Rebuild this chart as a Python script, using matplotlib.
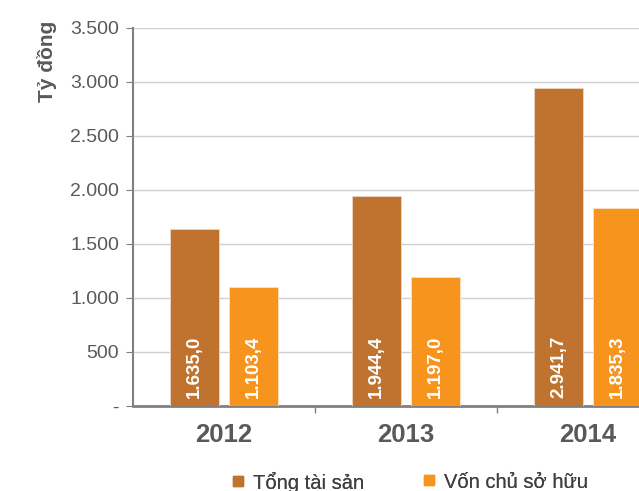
import matplotlib
matplotlib.use("Agg")
import matplotlib.pyplot as plt
from matplotlib.lines import Line2D
import numpy as np

plt.rcParams['font.family'] = ['Liberation Sans', 'DejaVu Sans']

nam = ['2012', '2013', '2014']
tong_tai_san = [1635.0, 1944.4, 2941.7]
von_chu_so_huu = [1103.4, 1197.0, 1835.3]
nhan_tts = ['1.635,0', '1.944,4', '2.941,7']
nhan_vcsh = ['1.103,4', '1.197,0', '1.835,3']
y_ticks = [0, 500, 1000, 1500, 2000, 2500, 3000, 3500]
y_labels = ['-', '500', '1.000', '1.500', '2.000', '2.500', '3.000', '3.500']

mau_nau = '#C0722F'
mau_cam = '#F7941D'
xam = '#595959'

fig = plt.figure(figsize=(6.39, 4.91), dpi=100)
ax = fig.add_axes([133 / 639, 1 - 406 / 491, 1 - 133 / 639, (406 - 28) / 491])

x = np.arange(len(nam))
w = 0.27
off = 0.162
b1 = ax.bar(x - off, tong_tai_san, w, color=mau_nau, edgecolor='#e8d8c8', linewidth=0.6, zorder=3)
b2 = ax.bar(x + off, von_chu_so_huu, w, color=mau_cam, edgecolor='#fbe3c4', linewidth=0.6, zorder=3)

for bars, labels in [(b1, nhan_tts), (b2, nhan_vcsh)]:
    for r, lab in zip(bars, labels):
        ax.text(r.get_x() + r.get_width() / 2, 70, lab, rotation=90, ha='center', va='bottom',
                color='white', fontsize=13.5, fontweight='bold', zorder=4)

ax.set_ylim(0, 3500)
ax.set_xlim(-0.5, (639 - 224) / 182)
ax.set_yticks(y_ticks)
ax.set_yticklabels(y_labels)
ax.set_xticks(x)
ax.set_xticklabels(nam)
ax.set_xticks([0.5, 1.5], minor=True)
ax.tick_params(axis='x', which='major', length=0, pad=12, labelsize=18.5, labelcolor=xam)
for t in ax.get_xticklabels():
    t.set_fontweight('bold')
ax.tick_params(axis='x', which='minor', length=5, color='#808080', width=1)
ax.tick_params(axis='y', length=5, color='#808080', pad=5, labelsize=14, labelcolor=xam)

ax.grid(axis='y', color='#d0d0d0', linewidth=1, zorder=0)
ax.set_axisbelow(True)
for s in ['top', 'right']:
    ax.spines[s].set_visible(False)
ax.spines['left'].set_color('#808080')
ax.spines['left'].set_linewidth(1.5)
ax.spines['bottom'].set_color('#808080')
ax.spines['bottom'].set_linewidth(2)

fig.text(47 / 639, 1 - 61 / 491, 'Tỷ đồng', rotation=90, ha='center', va='center',
         fontsize=15, fontweight='bold', color=xam)

# chú giải: hai ô vuông đặt riêng
ten = ['Tổng tài sản', 'Vốn chủ sở hữu']
mau = [mau_nau, mau_cam]
vi_tri = [230, 421]
for t, m, px in zip(ten, mau, vi_tri):
    h = Line2D([], [], marker='s', linestyle='', color=m, markersize=7.5)
    lg = fig.legend([h], [t], loc='center left', bbox_to_anchor=(px / 639, 1 - 482 / 491),
                    frameon=False, fontsize=14.5, handlelength=0.8, handletextpad=0.35,
                    borderpad=0, borderaxespad=0, labelcolor='#404040')
    fig.add_artist(lg)

fig.savefig('out.png', dpi=100)
